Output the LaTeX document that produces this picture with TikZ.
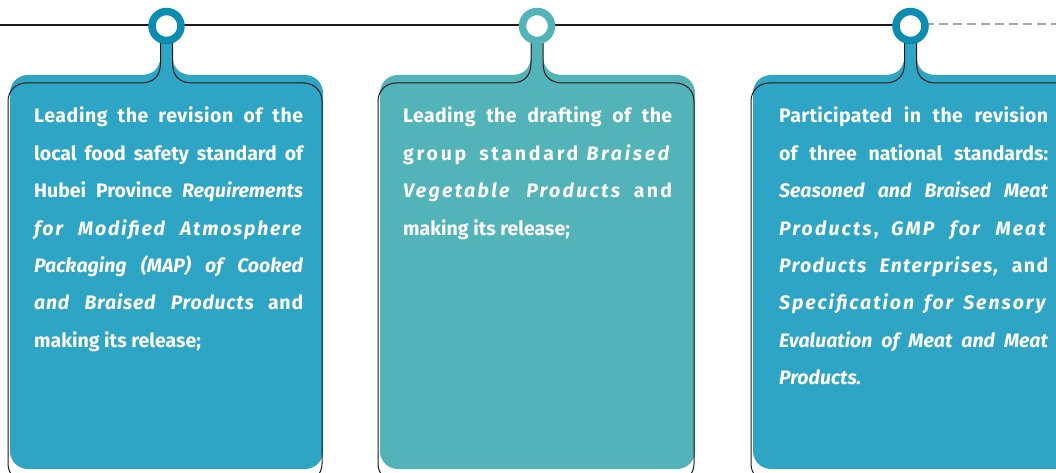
\documentclass[tikz,border=0pt]{standalone}
\usepackage{fontspec}
\setmainfont{Fira Sans}
\definecolor{boxblue}{HTML}{2EA5C4}
\definecolor{ringblue}{HTML}{0B8CB0}
\definecolor{boxteal}{HTML}{52B3B9}
\definecolor{outl}{HTML}{231815}
\newcommand\tabpath[5]{({#5-6},27) -- ({#5-6},{#3-20}) .. controls ({#5-6},{#3-6}) and ({#5-14},{#3}) .. ({#5-26},{#3}) -- ({#1+18},{#3}) .. controls ({#1+8},{#3}) and ({#1},{#3+8}) .. ({#1},{#3+18}) -- ({#1},{#4-18}) .. controls ({#1},{#4-8}) and ({#1+8},{#4}) .. ({#1+18},{#4}) -- ({#2-18},{#4}) .. controls ({#2-8},{#4}) and ({#2},{#4-8}) .. ({#2},{#4-18}) -- ({#2},{#3+18}) .. controls ({#2},{#3+8}) and ({#2-8},{#3}) .. ({#2-18},{#3}) -- ({#5+26},{#3}) .. controls ({#5+14},{#3}) and ({#5+6},{#3-6}) .. ({#5+6},{#3-20}) -- ({#5+6},27)}
\newcommand\lsp[2]{{\addfontfeature{LetterSpace=#1}#2}}
\tikzset{
  outline/.style={draw=outl, line width=1pt},
  ring/.style={circle, minimum size=29pt, inner sep=0pt, line width=7.5pt, fill=white},
  rope/.style={draw=outl, line width=1.8pt},
  faderope/.style={draw=black!35, line width=1.2pt, dash pattern=on 9pt off 5pt},
  txt/.style={anchor=base west, inner sep=0pt, text width=269pt, align=justify, text=white,
    font=\bfseries\fontsize{19.5}{37.4}\selectfont}
}
\begin{document}
\begin{tikzpicture}[x=1pt,y=-1pt]
\useasboundingbox (0,0) rectangle (1056,473);
\clip (0,0) rectangle (1056,473);
\coordinate (ropeL) at (0,25);
\coordinate (c1) at (166.5,26);
\coordinate (c2) at (537,26);
\coordinate (c3) at (910.5,26);
\coordinate (ropeR) at (1056,24);
% rope
\draw[rope] (ropeL) -- (c1 |- ropeL) -- (c2 |- ropeL) -- (c3 |- ropeL);
\draw[faderope] (c3 |- ropeR) -- (ropeR);
% boxes
\fill[boxblue] \tabpath{10}{323}{75}{469}{166.5} -- cycle;
\draw[outline] \tabpath{8}{322}{83}{482}{166.5};
\fill[boxteal] \tabpath{380}{695}{75}{469}{537} -- cycle;
\draw[outline] \tabpath{378}{694}{83}{482}{537};
\fill[boxblue] \tabpath{753}{1080}{75}{469}{910.5} -- cycle;
\draw[outline] \tabpath{751}{1079}{83}{482}{910.5};
% rings
\node[ring, draw=ringblue] (r1) at (c1) {};
\node[ring, draw=boxteal] (r2) at (c2) {};
\node[ring, draw=ringblue] (r3) at (c3) {};
% texts
\node[txt] (t1) at (34,123) {\lsp{3}{Leading the revision of the}\linebreak local food safety standard of\linebreak Hubei Province \textit{Requirements}\linebreak \textit{\lsp{9}{for Modified Atmosphere}}\linebreak \textit{Packaging (MAP) of Cooked}\linebreak \textit{\lsp{4}{and Braised Products}} \lsp{4}{and}\linebreak making its release;};
\node[txt] (t2) at (403,123) {\lsp{2}{Leading the drafting of the}\linebreak \lsp{14}{group standard} \textit{\lsp{14}{Braised}}\linebreak \textit{\lsp{12}{Vegetable Products}} \lsp{12}{and}\linebreak making its release;};
\node[txt] (t3) at (779,123) {\lsp{2}{Participated in the revision}\linebreak of three national standards:\linebreak \textit{Seasoned and Braised Meat}\linebreak \textit{\lsp{11}{Products}}\lsp{11}{,} \textit{\lsp{11}{GMP for Meat}}\linebreak \textit{\lsp{7}{Products Enterprises,}} \lsp{7}{and}\linebreak \textit{\lsp{10}{Specification for Sensory}}\linebreak \textit{Evaluation of Meat and Meat}\linebreak \textit{Products.}};
\end{tikzpicture}
\end{document}
